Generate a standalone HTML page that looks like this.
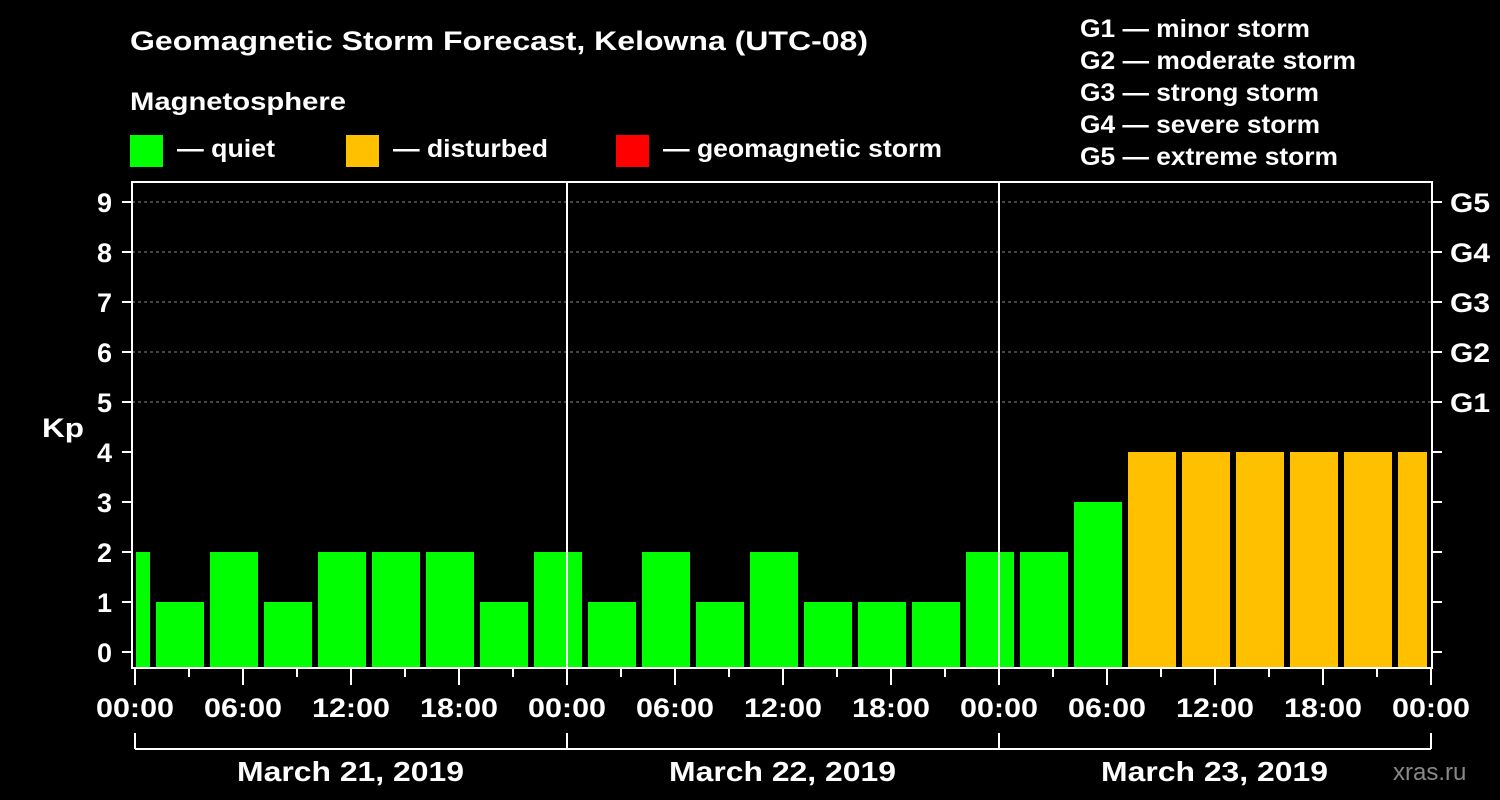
<!DOCTYPE html>
<html><head><meta charset="utf-8"><style>
body{margin:0;background:#000;}
svg{display:block;font-family:"Liberation Sans",Arial,sans-serif;font-weight:bold;}
</style></head><body>
<svg id="c" width="1500" height="800" viewBox="0 0 1500 800">
<rect width="1500" height="800" fill="#000"/>
<text x="130" y="50" fill="#fff" font-size="27" textLength="738" lengthAdjust="spacingAndGlyphs">Geomagnetic Storm Forecast, Kelowna (UTC-08)</text>
<text x="130" y="110" fill="#fff" font-size="25" textLength="216" lengthAdjust="spacingAndGlyphs">Magnetosphere</text>
<g><rect x="130" y="135" width="33" height="32" fill="#00ff00"/><text x="177" y="157" fill="#fff" font-size="25" textLength="98" lengthAdjust="spacingAndGlyphs">— quiet</text></g>
<g><rect x="346" y="135" width="33" height="32" fill="#ffc000"/><text x="393" y="157" fill="#fff" font-size="25" textLength="155" lengthAdjust="spacingAndGlyphs">— disturbed</text></g>
<g><rect x="616" y="135" width="33" height="32" fill="#ff0000"/><text x="663" y="157" fill="#fff" font-size="25" textLength="279" lengthAdjust="spacingAndGlyphs">— geomagnetic storm</text></g>
<g fill="#fff" font-size="25" lengthAdjust="spacingAndGlyphs">
<text x="1080" y="37" textLength="230" lengthAdjust="spacingAndGlyphs">G1 — minor storm</text>
<text x="1080" y="69" textLength="276" lengthAdjust="spacingAndGlyphs">G2 — moderate storm</text>
<text x="1080" y="101" textLength="239" lengthAdjust="spacingAndGlyphs">G3 — strong storm</text>
<text x="1080" y="133" textLength="240" lengthAdjust="spacingAndGlyphs">G4 — severe storm</text>
<text x="1080" y="165" textLength="258" lengthAdjust="spacingAndGlyphs">G5 — extreme storm</text>
</g>
<text x="42" y="437" fill="#fff" font-size="27" textLength="42" lengthAdjust="spacingAndGlyphs">Kp</text>
<text x="1393" y="780" fill="#888" font-size="24" font-weight="normal">xras.ru</text>
<g id="plot"></g>
</svg>
<script>
const values=[2,1,2,1,2,2,2,1,2,1,2,1,2,1,1,1,2,2,3,4,4,4,4,4,4,4];
const slotStartHours=[-2];
const dayLabels=["March 21, 2019","March 22, 2019","March 23, 2019"];
const timeLabels=["00:00","06:00","12:00","18:00"];
const gLabels=["G1","G2","G3","G4","G5"];
const NS="http://www.w3.org/2000/svg";
const p=document.getElementById('plot');
const X0=135,PXH=18,Ytop=182,Ybot=668,L=132,R=1432;
const xs=h=>X0+h*PXH, ys=k=>652-50*k;
function mk(t,a,parent){const e=document.createElementNS(NS,t);for(const k in a)e.setAttribute(k,a[k]);(parent||p).appendChild(e);return e;}
for(let k=5;k<=9;k++){const g=mk('line',{x1:L,x2:R,y1:ys(k),y2:ys(k),stroke:'#888','stroke-dasharray':'3,3','stroke-width':1});

}
values.forEach((v,i)=>{const s=slotStartHours[0]+3*i;let a=xs(s)+3,b=xs(s+3)-3;a=Math.max(a,X0+1);b=Math.min(b,xs(72)-4);
const r=mk('rect',{x:a,y:ys(v),width:b-a,height:Ybot-ys(v),fill:v>=5?'#ff0000':(v>=4?'#ffc000':'#00ff00')});

});
[1,2].forEach(d=>{const l=mk('line',{x1:xs(24*d),x2:xs(24*d),y1:Ytop,y2:Ybot,stroke:'#fff','stroke-width':2});

});
const f=mk('rect',{x:L,y:Ytop,width:R-L,height:Ybot-Ytop,fill:'none',stroke:'#fff','stroke-width':2});


for(let k=0;k<=9;k++){mk('line',{x1:122,x2:L,y1:ys(k),y2:ys(k),stroke:'#fff','stroke-width':2});mk('line',{x1:R,x2:R+10,y1:ys(k),y2:ys(k),stroke:'#fff','stroke-width':2});
const t=mk('text',{x:112,y:ys(k)+10,fill:'#fff','font-size':27,'text-anchor':'end'});t.textContent=k;

}
gLabels.forEach((g,i)=>{const t=mk('text',{x:1450,y:ys(5+i)+10,fill:'#fff','font-size':27,textLength:40,lengthAdjust:'spacingAndGlyphs'});t.textContent=g;

});
for(let h=0;h<=72;h+=3){const maj=h%6==0;mk('line',{x1:xs(h),x2:xs(h),y1:Ybot,y2:Ybot+(maj?17:9),stroke:'#fff','stroke-width':2});
if(maj){const t=mk('text',{x:xs(h)-39,y:717,fill:'#fff','font-size':27,textLength:78,lengthAdjust:'spacingAndGlyphs'});t.textContent=timeLabels[(h%24)/6];

}}
mk('line',{x1:xs(0),x2:xs(72),y1:749,y2:749,stroke:'#fff','stroke-width':2});
for(let d=0;d<=3;d++)mk('line',{x1:xs(24*d),x2:xs(24*d),y1:733,y2:749,stroke:'#fff','stroke-width':2});
dayLabels.forEach((s,d)=>{const t=mk('text',{x:xs(24*d+12)-114,y:781,fill:'#fff','font-size':28,textLength:227,lengthAdjust:'spacingAndGlyphs'});t.textContent=s;

});
</script>
</body></html>
